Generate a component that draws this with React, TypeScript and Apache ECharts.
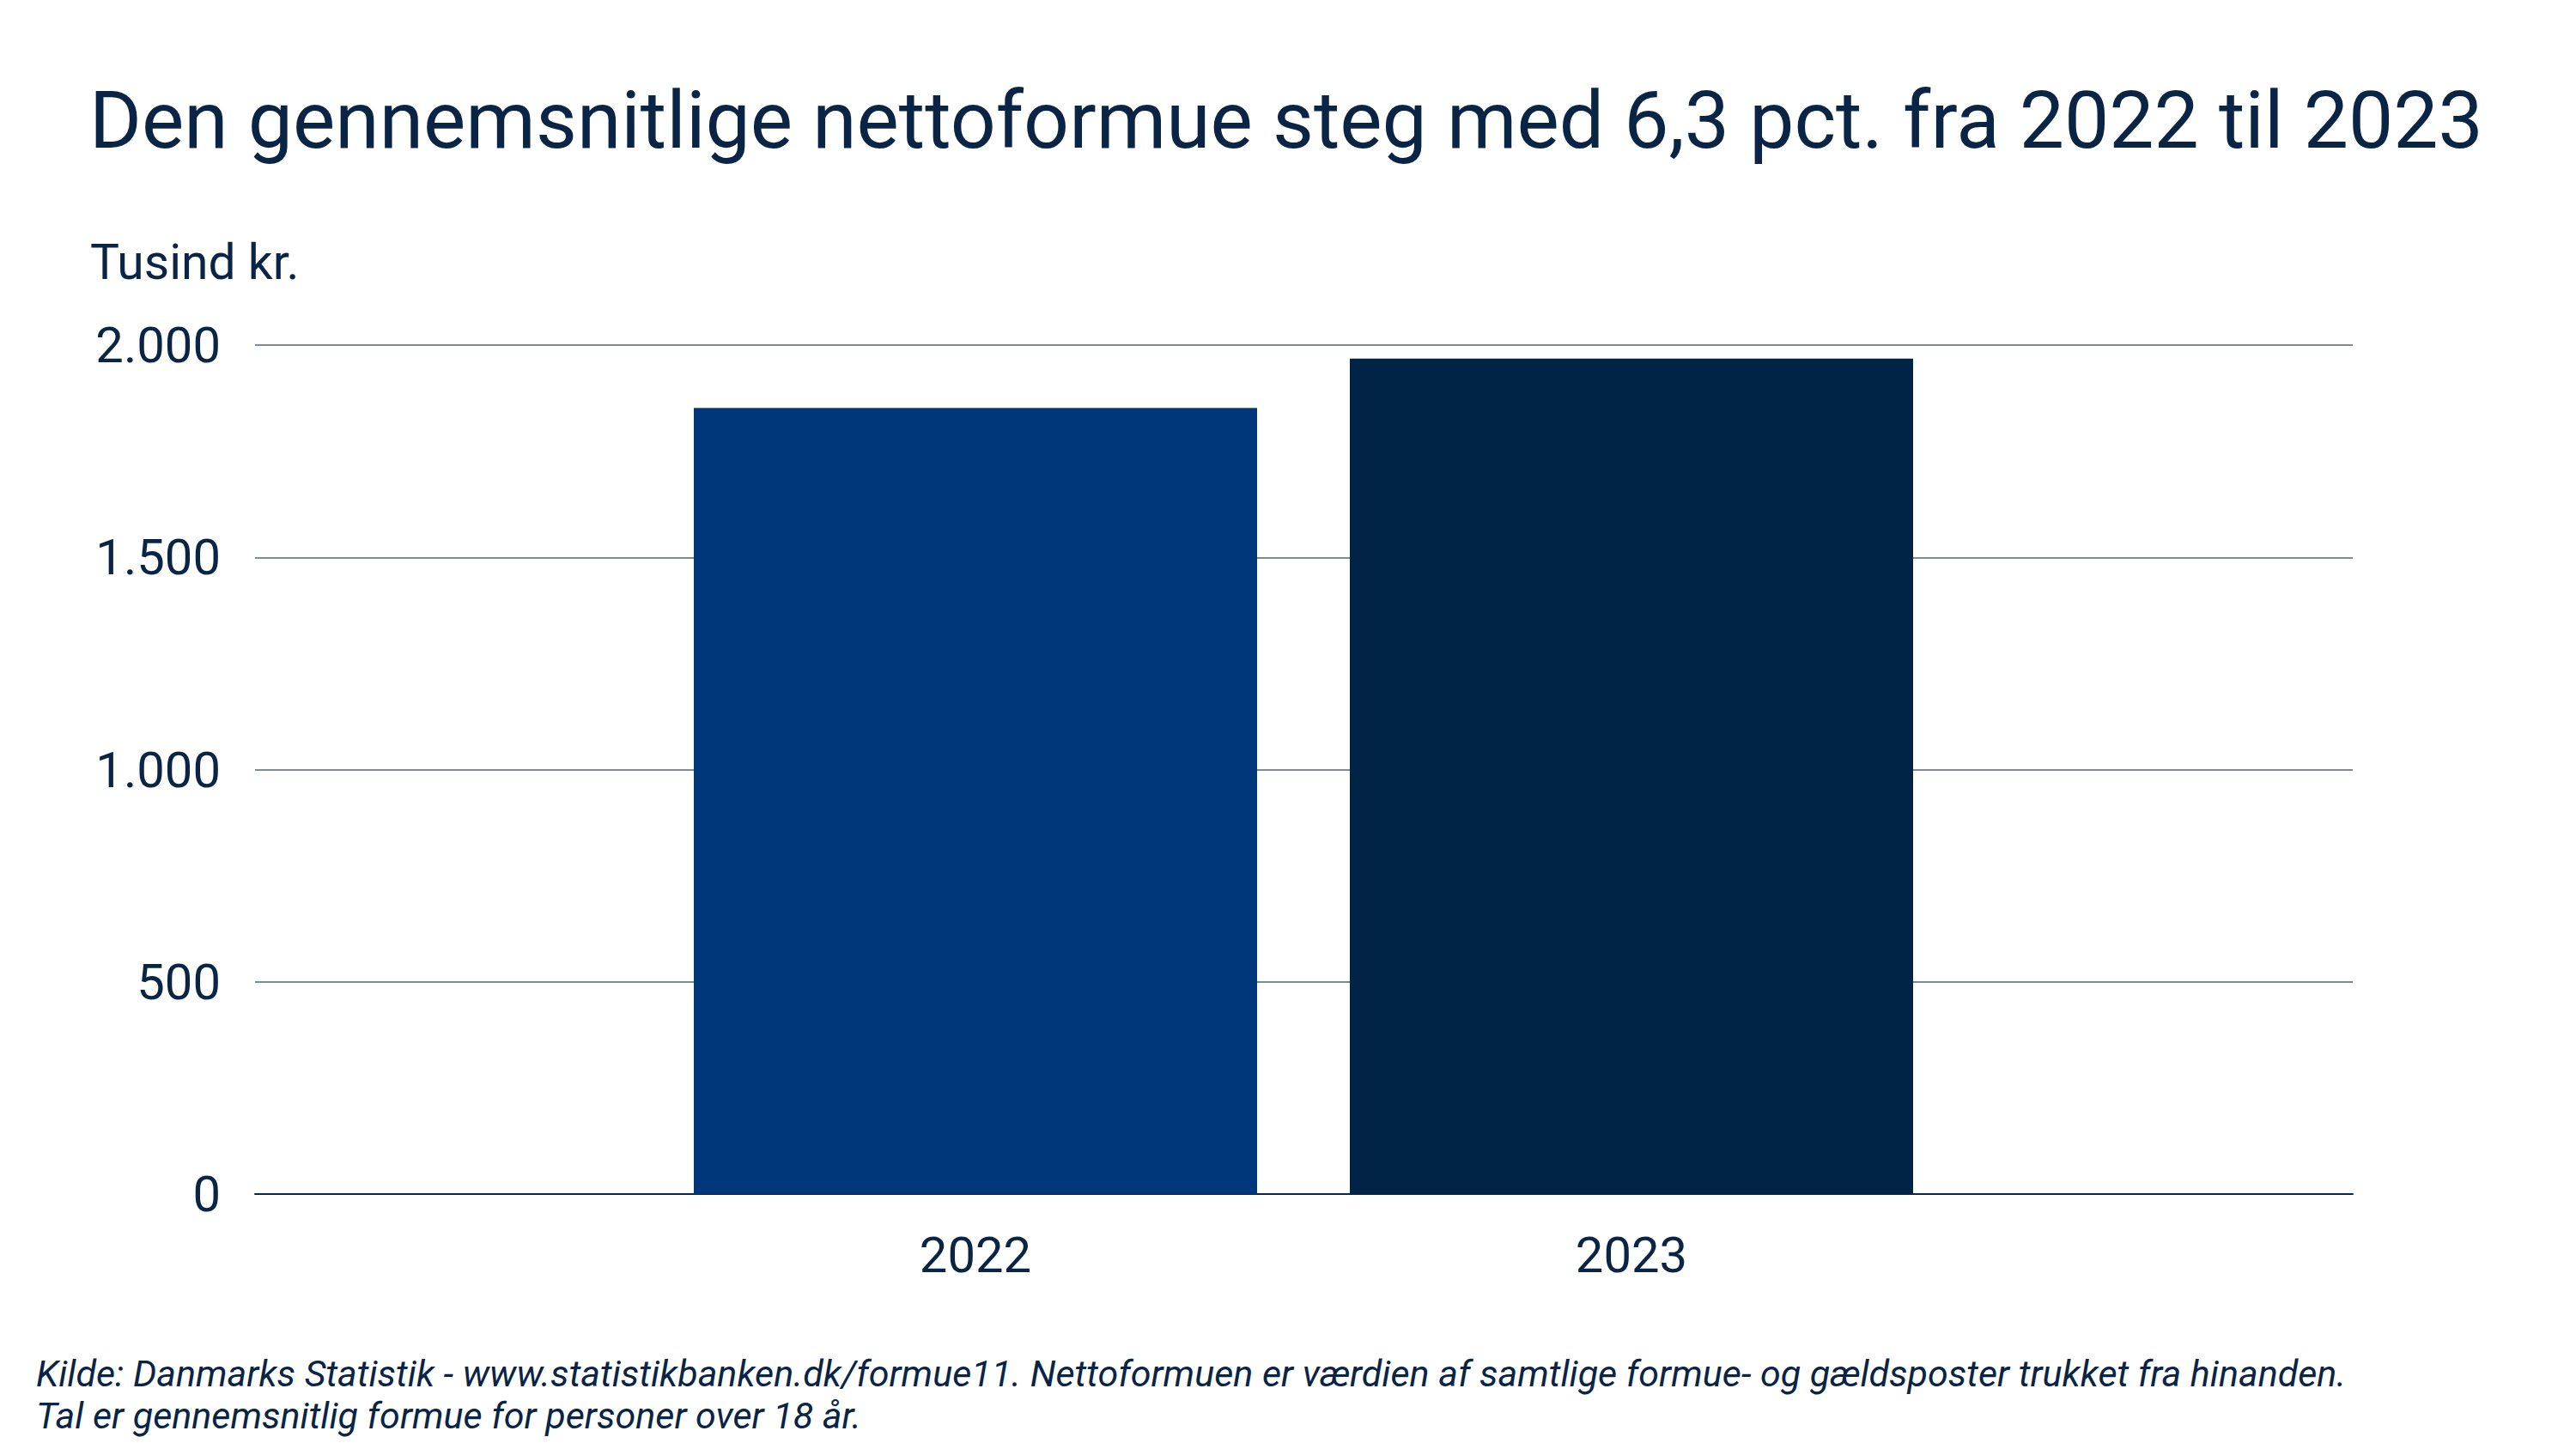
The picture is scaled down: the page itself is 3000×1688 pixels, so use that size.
import React, { useEffect, useRef } from 'react';
import * as echarts from 'echarts';

const titleText = 'Den gennemsnitlige nettoformue steg med 6,3 pct. fra 2022 til 2023';
const unitLabel = 'Tusind kr.';
const categories = ['2022', '2023'];
const values = [1852, 1968];
const barColors = ['#00377a', '#002346'];
const yTicks = [0, 500, 1000, 1500, 2000];
const footnoteLines = [
  'Kilde: Danmarks Statistik - www.statistikbanken.dk/formue11. Nettoformuen er værdien af samtlige formue- og gældsposter trukket fra hinanden.',
  'Tal er gennemsnitlig formue for personer over 18 år.',
];

const TEXT = '#0a2446';
const FONT = 'Roboto';

function fmt(v: number): string {
  return String(v).replace(/\B(?=(\d{3})+(?!\d))/g, '.');
}

export default function App() {
  const ref = useRef<HTMLDivElement>(null);
  useEffect(() => {
    document.body.style.margin = '0';
    if (!ref.current) return;
    const chart = echarts.init(ref.current, undefined, { renderer: 'svg' });
    const yMin = yTicks[0];
    const yMax = yTicks[yTicks.length - 1];
    const yInt = yTicks[1] - yTicks[0];
    chart.setOption({
      animation: false,
      backgroundColor: '#ffffff',
      grid: [
        { left: 297, right: 260, top: 402, bottom: 297 },
        { left: 754, right: 718, top: 402, bottom: 297 },
      ],
      xAxis: [
        {
          gridIndex: 0,
          type: 'category',
          data: [''],
          axisLine: { show: true, lineStyle: { color: '#0a2446', width: 2 } },
          axisTick: { show: false },
          axisLabel: { show: false },
          splitLine: { show: false },
        },
        {
          gridIndex: 1,
          type: 'category',
          data: categories,
          axisLine: { show: false },
          axisTick: { show: false },
          splitLine: { show: false },
          axisLabel: { margin: 42, fontSize: 58, color: TEXT, fontFamily: FONT },
        },
      ],
      yAxis: [
        {
          gridIndex: 0,
          type: 'value',
          min: yMin,
          max: yMax,
          interval: yInt,
          axisLine: { show: false },
          axisTick: { show: false },
          splitLine: { show: true, lineStyle: { color: '#7d8b99', width: 2 } },
          axisLabel: {
            margin: 40,
            fontSize: 58,
            color: TEXT,
            fontFamily: FONT,
            formatter: (v: number) => fmt(v),
          },
        },
        {
          gridIndex: 1,
          type: 'value',
          min: yMin,
          max: yMax,
          interval: yInt,
          show: false,
        },
      ],
      series: [
        {
          type: 'bar',
          xAxisIndex: 1,
          yAxisIndex: 1,
          barWidth: 656,
          data: values.map((v, i) => ({ value: v, itemStyle: { color: barColors[i] } })),
        },
      ],
      graphic: [
        {
          type: 'text',
          x: 104,
          y: 140,
          style: { text: titleText, fontSize: 93, fontFamily: FONT, fill: TEXT, align: 'left', verticalAlign: 'middle' },
        },
        {
          type: 'text',
          x: 105,
          y: 305,
          style: { text: unitLabel, fontSize: 57, fontFamily: FONT, fill: TEXT, align: 'left', verticalAlign: 'middle' },
        },
        ...footnoteLines.map((t, i) => ({
          type: 'text',
          x: 42,
          y: 1600 + i * 49,
          style: { text: t, fontSize: 43, fontStyle: 'italic', fontFamily: FONT, fill: TEXT, align: 'left', verticalAlign: 'middle' },
        })),
      ],
    });
    return () => chart.dispose();
  }, []);
  return <div ref={ref} style={{ width: 3000, height: 1688 }} />;
}
